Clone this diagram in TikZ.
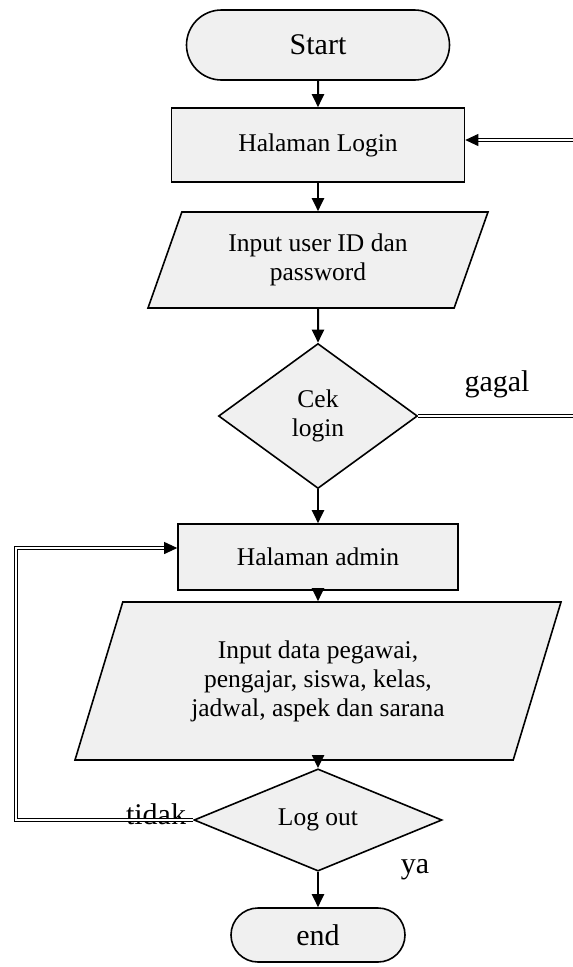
\documentclass[tikz,border=0pt]{standalone}
\usepackage{fontspec}
\setmainfont{Liberation Serif}
\usetikzlibrary{shapes.geometric,shapes.misc,arrows.meta}

\tikzset{
  terminal/.style={rounded rectangle, draw, line width=1.6pt, fill=gray!12, inner sep=0pt, font=\fontsize{30}{34}\selectfont},
  proses/.style={rectangle, draw, line width=1.6pt, fill=gray!12, inner sep=0pt},
  masukan/.style={trapezium, trapezium stretches body, draw, line width=1.6pt, fill=gray!12, inner sep=0pt, align=center},
  keputusan/.style={diamond, draw, line width=1.6pt, fill=gray!12, inner sep=0pt, align=center},
  label/.style={font=\fontsize{30}{34}\selectfont},
  panah/.style={-{Triangle[length=13pt,width=12pt]}, line width=2pt},
  garis/.style={double, double distance=1.6pt, line width=0.9pt},
}

\begin{document}
\begin{tikzpicture}[x=1pt,y=-1pt,font=\fontsize{25.5}{29}\selectfont]
        \useasboundingbox (0,0) rectangle (573,967);

        % Start dan login
        \node[terminal, minimum width=263, minimum height=70] (start) at (318,45) {Start};
        \node[proses, minimum width=293, minimum height=74] (login) at (318,145) {Halaman Login};
        \node[masukan, trapezium left angle=57, trapezium right angle=123,
              minimum width=340, minimum height=96] (masuk1) at (318,260) {Input user ID dan\\password};
        \node[keputusan, minimum width=199, minimum height=145] (cek) at (318,416) {Cek\\login};

        % Halaman admin
        \node[proses, minimum width=280, minimum height=66] (admin) at (318,557) {Halaman admin};
        \node[masukan, trapezium left angle=59.5, trapezium right angle=120.5,
              minimum width=486, minimum height=158] (masuk2) at (318,681)
              {Input data pegawai,\\pengajar, siswa, kelas,\\jadwal, aspek dan sarana};
        \node[keputusan, minimum width=248, minimum height=99] (logout) at (318,820) {Log out};
        \node[terminal, minimum width=174, minimum height=54] (end) at (318,935) {end};

        % Label
        \node[label] (gagal) at (497,384) {gagal};
        \node[label] (tidak) at (156,814) {tidak};
        \node[label] (ya) at (415,870) {ya};

        % Alur utama
        \draw[panah] (start) -- (login);
        \draw[panah] (login) -- (masuk1);
        \draw[panah] (masuk1) -- (cek);
        \draw[panah] (cek) -- (admin);
        \draw[panah] (admin) -- (masuk2);
        \draw[panah] (masuk2) -- (logout);
        \draw[panah] (logout) -- (end);

        % Kembali
        \coordinate (gagalend) at (573,416);
        \coordinate (balik) at (573,140);
        \coordinate (kiri) at (16,548);
        \draw[garis] (cek.east) -- (gagalend);
        \draw[garis, -{Triangle[length=13pt,width=12pt]}] (balik) -- (balik -| login.east);
        \draw[garis, -{Triangle[length=13pt,width=12pt]}] (logout.west) -| (kiri) -- (kiri -| admin.west);
    \end{tikzpicture}
\end{document}
